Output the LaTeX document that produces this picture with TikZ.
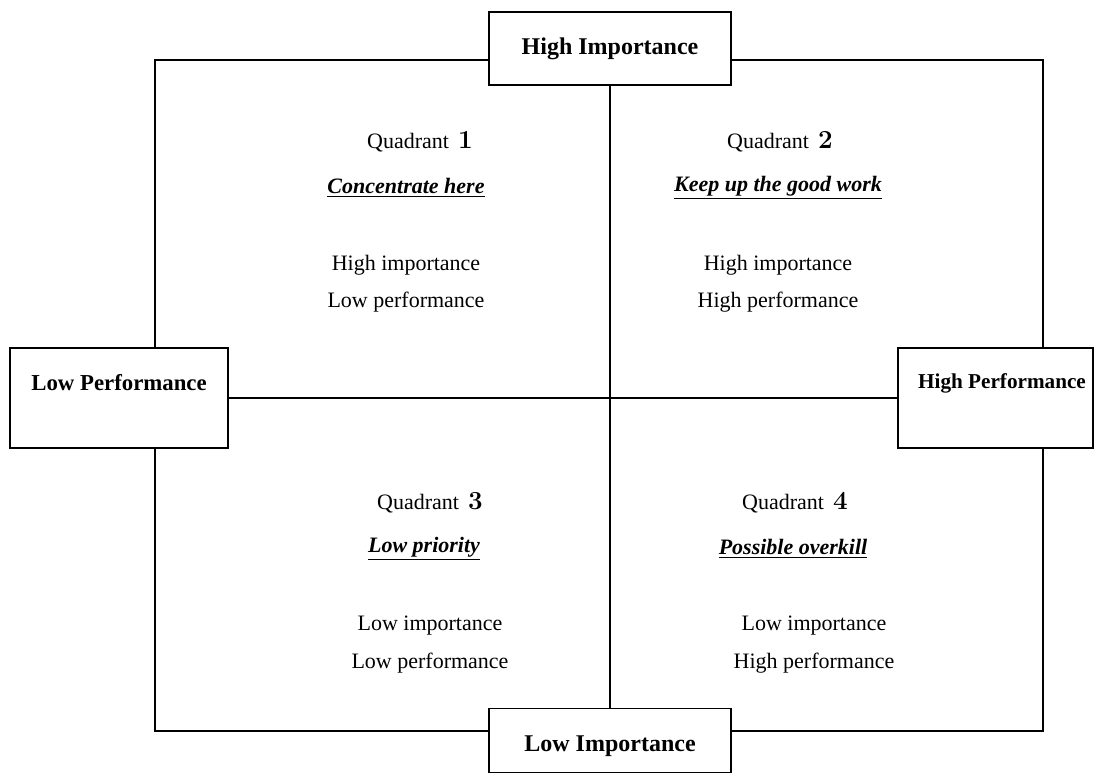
\documentclass[tikz,border=0pt]{standalone}
\usepackage{fontspec}
\setmainfont{Liberation Serif}
\newfontfamily\numfont{Latin Modern Roman}
\begin{document}
\begin{tikzpicture}[x=0.5pt,y=-0.5pt,
		axisbox/.style={draw,fill=white,line width=0.9pt,inner sep=0pt,font=\fontsize{12}{14}\selectfont\bfseries},
		quadtext/.style={font=\fontsize{11}{13}\selectfont},
		quadtitle/.style={font=\fontsize{11}{13}\selectfont\bfseries\itshape}]
			\useasboundingbox (0,0) rectangle (1104,776);
			\draw[line width=0.9pt] (155,60) rectangle (1043,731);
			\node[axisbox,minimum width=121pt,minimum height=36.5pt] (himp) at (610,48.5) {High Importance};
			\node[axisbox,minimum width=121pt,minimum height=32pt] (limp) at (610,740.5) {\smash{\raisebox{-5.5pt}{Low Importance}}};
			\node[axisbox,minimum width=109pt,minimum height=50pt,font=\fontsize{11.4}{14}\selectfont\bfseries] (lperf) at (119,398) {\raisebox{16pt}{Low Performance}};
			\node[axisbox,minimum width=97.5pt,minimum height=50pt,font=\fontsize{10.6}{13}\selectfont\bfseries] (hperf) at (995.5,398) {\hspace{6.5pt}\raisebox{17pt}{High Performance}};
			\draw[line width=0.9pt] (himp) -- (limp);
			\draw[line width=0.9pt] (lperf) -- (hperf);
			% quadrant 1
			\node[quadtext] (q1) at (420,142) {Quadrant \,{\numfont\bfseries\fontsize{13}{15}\selectfont 1}};
			\node[quadtitle] (t1) at (406,188) {\underline{Concentrate here}};
			\node[quadtext] (a1) at (406,265) {High importance};
			\node[quadtext] (b1) at (406,302) {Low performance};
			% quadrant 2
			\node[quadtext] (q2) at (780,142) {Quadrant \,{\numfont\bfseries\fontsize{13}{15}\selectfont 2}};
			\node[quadtitle] (t2) at (778,188) {\underline{Keep up the good work}};
			\node[quadtext] (a2) at (778,265) {High importance};
			\node[quadtext] (b2) at (778,302) {High performance};
			% quadrant 3
			\node[quadtext] (q3) at (430,503) {Quadrant \,{\numfont\bfseries\fontsize{13}{15}\selectfont 3}};
			\node[quadtitle] (t3) at (424,549) {\underline{Low priority}};
			\node[quadtext] (a3) at (430,626) {Low importance};
			\node[quadtext] (b3) at (430,663) {Low performance};
			% quadrant 4
			\node[quadtext] (q4) at (795,503) {Quadrant \,{\numfont\bfseries\fontsize{13}{15}\selectfont 4}};
			\node[quadtitle] (t4) at (793,549) {\underline{Possible overkill}};
			\node[quadtext] (a4) at (814,626) {Low importance};
			\node[quadtext] (b4) at (814,663) {High performance};
		\end{tikzpicture}
\end{document}
